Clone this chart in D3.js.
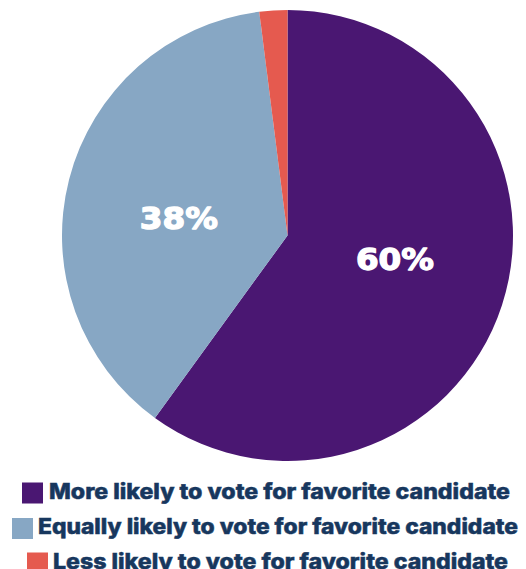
<!DOCTYPE html>
<html>
<head>
<meta charset="utf-8">
<script src="https://cdn.jsdelivr.net/npm/d3@7"></script>
<style>
  html, body { margin: 0; padding: 0; background: #ffffff; }
  svg { display: block; }
</style>
</head>
<body>
<svg id="chart" width="526" height="569"></svg>
<script>
// ---- data ----
const categories = [
  "More likely to vote for favorite candidate",
  "Equally likely to vote for favorite candidate",
  "Less likely to vote for favorite candidate"
];
const values = [60, 38, 2];
const valueLabels = ["60%", "38%", ""];
const colors = ["#4a1772", "#87a7c4", "#e55a4f"];

// ---- layout ----
const W = 526, H = 569;
const cx = 287.5, cy = 235.5, R = 225.5;
const svg = d3.select("#chart");

const pie = d3.pie().sort(null).value(d => d.v);
const arcs = pie(values.map((v, i) => ({ v, i })));
const arc = d3.arc().innerRadius(0).outerRadius(R);
const labelShift = -5.5 * Math.PI / 180;
const labelArc = d3.arc().innerRadius(110).outerRadius(110)
  .startAngle(d => d.startAngle + labelShift)
  .endAngle(d => d.endAngle + labelShift);

const g = svg.append("g").attr("transform", `translate(${cx},${cy})`);
g.selectAll("path.slice")
  .data(arcs)
  .join("path")
  .attr("class", "slice")
  .attr("d", arc)
  .attr("fill", d => colors[d.data.i]);

g.selectAll("text.val")
  .data(arcs.filter(d => valueLabels[d.data.i]))
  .join("text")
  .attr("class", "val")
  .attr("transform", d => {
    const [x, y] = labelArc.centroid(d);
    return `translate(${x},${y + 10.5})`;
  })
  .attr("text-anchor", "middle")
  .attr("font-family", "DejaVu Sans, sans-serif")
  .attr("font-weight", "bold")
  .attr("font-size", 29.5)
  .attr("fill", "#ffffff")
  .attr("stroke", "#ffffff")
  .attr("stroke-width", 1.3)
  .attr("stroke-linejoin", "round")
  .attr("textLength", 78)
  .attr("lengthAdjust", "spacingAndGlyphs")
  .text(d => valueLabels[d.data.i]);

// ---- legend ----
const legendRows = [
  { y: 493, swX: 22, txtX: 49, txtW: 461 },
  { y: 528.5, swX: 12, txtX: 38, txtW: 480 },
  { y: 563, swX: 27, txtX: 53, txtW: 455 }
];
const leg = svg.append("g");
categories.forEach((c, i) => {
  const r = legendRows[i];
  leg.append("rect")
    .attr("x", r.swX).attr("y", r.y - 10.5)
    .attr("width", 21).attr("height", 21)
    .attr("fill", colors[i]);
  leg.append("text")
    .attr("x", r.txtX).attr("y", r.y + 5.5)
    .attr("font-family", "Inter, sans-serif")
    .attr("font-weight", 800)
    .attr("font-size", 21)
    .attr("fill", "#17375e")
    .attr("stroke", "#17375e")
    .attr("stroke-width", 0.5)
    .attr("textLength", r.txtW)
    .attr("lengthAdjust", "spacingAndGlyphs")
    .text(c);
});
</script>
</body>
</html>
